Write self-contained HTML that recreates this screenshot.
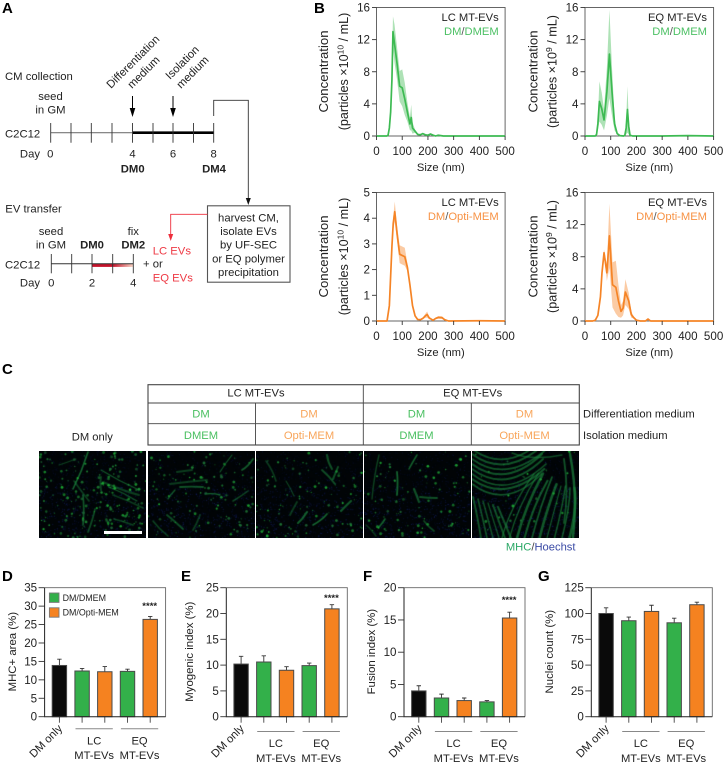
<!DOCTYPE html>
<html lang="en">
<head>
<meta charset="utf-8">
<title>MT-EV characterization figure</title>
<style>
html,body{margin:0;padding:0;background:#fff;}
#stage{position:relative;width:724px;height:766px;overflow:hidden;background:#fff;}
#figure{position:absolute;left:0;top:0;}
svg text{font-family:"Liberation Sans",Arial,sans-serif;fill:#222;}
.micro{position:absolute;display:block;}
</style>
</head>
<body>
<div id="stage">
<svg id="figure" width="724" height="766" viewBox="0 0 724 766" xmlns="http://www.w3.org/2000/svg">
  <defs>
    <linearGradient id="redFade" x1="0" x2="1" y1="0" y2="0">
      <stop offset="0" stop-color="#c4122a"/>
      <stop offset="0.5" stop-color="#c4122a"/>
      <stop offset="1" stop-color="#f7d5c4"/>
    </linearGradient>
  </defs>

  <g font-weight="700" font-size="15">
    <text x="2" y="13" style="fill:#000">A</text>
    <text x="314" y="13" style="fill:#000">B</text>
    <text x="2" y="374" style="fill:#000">C</text>
    <text x="2" y="581" style="fill:#000">D</text>
    <text x="181" y="581" style="fill:#000">E</text>
    <text x="363" y="581" style="fill:#000">F</text>
    <text x="538" y="581" style="fill:#000">G</text>
  </g>

  <g id="panelA" font-size="11.3">
    <text x="5" y="80">CM collection</text>
    <text x="50.5" y="100" text-anchor="middle">seed</text>
    <text x="50.5" y="113.3" text-anchor="middle">in GM</text>
    <text transform="translate(111 89) rotate(-45)">Differentiation</text>
    <text transform="translate(132 89) rotate(-45)">medium</text>
    <text transform="translate(170 80) rotate(-45)">Isolation</text>
    <text transform="translate(181 89) rotate(-45)">medium</text>
    <g>
      <line x1="132.5" y1="96" x2="132.5" y2="110" stroke="#000" stroke-width="1"/>
      <path d="M129.7 108 L135.3 108 L132.5 117 Z" fill="#000"/>
    </g>
    <g>
      <line x1="173" y1="96" x2="173" y2="110" stroke="#000" stroke-width="1"/>
      <path d="M170.2 108 L175.8 108 L173 117 Z" fill="#000"/>
    </g>
    <text x="5" y="137.7">C2C12</text>
    <g stroke="#333" stroke-width="0.9">
      <line x1="50.7" y1="132.7" x2="132.5" y2="132.7" stroke="#777" stroke-width="1.1"/>
      <line x1="132.5" y1="132.7" x2="213.7" y2="132.7" stroke="#000" stroke-width="2.6"/>
      <line x1="50.7" y1="123" x2="50.7" y2="142.7"/><line x1="71" y1="123" x2="71" y2="142.7"/>
      <line x1="91.3" y1="123" x2="91.3" y2="142.7"/><line x1="112" y1="123" x2="112" y2="142.7"/>
      <line x1="132.5" y1="123" x2="132.5" y2="142.7"/><line x1="153" y1="123" x2="153" y2="142.7"/>
      <line x1="173" y1="123" x2="173" y2="142.7"/><line x1="193.5" y1="123" x2="193.5" y2="142.7"/>
      <line x1="213.7" y1="123" x2="213.7" y2="142.7"/>
    </g>
    <text x="40" y="157.3" text-anchor="end">Day</text>
    <text x="50.3" y="157.3" text-anchor="middle">0</text>
    <text x="132.5" y="157.3" text-anchor="middle">4</text>
    <text x="173" y="157.3" text-anchor="middle">6</text>
    <text x="213.7" y="157.3" text-anchor="middle">8</text>
    <text x="132.7" y="172.7" text-anchor="middle" font-weight="700">DM0</text>
    <text x="214" y="172.7" text-anchor="middle" font-weight="700">DM4</text>
    <path d="M213.7 116 V100.3 H248.3 V199" fill="none" stroke="#333" stroke-width="0.9"/>
    <path d="M245.8 198 L250.8 198 L248.3 205 Z" fill="#111"/>

    <rect x="207.5" y="205.8" width="82.5" height="76.4" fill="#fff" stroke="#555" stroke-width="1.1"/>
    <g text-anchor="middle">
      <text x="248.5" y="221.3">harvest CM,</text>
      <text x="248.5" y="235">isolate EVs</text>
      <text x="248.5" y="248.7">by UF-SEC</text>
      <text x="248.5" y="262.3">or EQ polymer</text>
      <text x="248.5" y="276">precipitation</text>
    </g>
    <path d="M207.5 214.3 H170.7 V235" fill="none" stroke="#ee2e3c" stroke-width="0.9"/>
    <path d="M168.2 234 L173.2 234 L170.7 241 Z" fill="#ee2e3c"/>

    <text x="5.3" y="212.3">EV transfer</text>
    <text x="51" y="235" text-anchor="middle">seed</text>
    <text x="51" y="248.3" text-anchor="middle">in GM</text>
    <text x="92" y="248.3" text-anchor="middle" font-weight="700">DM0</text>
    <text x="133.3" y="235" text-anchor="middle">fix</text>
    <text x="133.3" y="248.3" text-anchor="middle" font-weight="700">DM2</text>
    <text x="5" y="268.3">C2C12</text>
    <g stroke="#333" stroke-width="0.9">
      <rect x="92" y="263.7" width="41.3" height="3.2" fill="url(#redFade)" stroke="none"/>
      <line x1="51.3" y1="263.7" x2="133.3" y2="263.7" stroke="#333" stroke-width="1"/>
      <line x1="51.3" y1="254" x2="51.3" y2="273.3"/><line x1="71.7" y1="254" x2="71.7" y2="273.3"/>
      <line x1="92" y1="254" x2="92" y2="273.3"/><line x1="112.7" y1="254" x2="112.7" y2="273.3"/>
      <line x1="133.3" y1="254" x2="133.3" y2="273.3"/>
    </g>
    <text x="40" y="286.7" text-anchor="end">Day</text>
    <text x="51.3" y="286.7" text-anchor="middle">0</text>
    <text x="92" y="286.7" text-anchor="middle">2</text>
    <text x="133.3" y="286.7" text-anchor="middle">4</text>
    <text x="143" y="267.5">+ or</text>
    <text x="152.7" y="254.3" style="fill:#ee3a45">LC EVs</text>
    <text x="152.7" y="281.7" style="fill:#ee3a45">EQ EVs</text>
  </g>

  <g id="panelB"></g>

  <g id="panelC" font-size="11.2">
    <g fill="none" stroke="#444">
      <rect x="148" y="384.7" width="431.3" height="60.3" stroke-width="1.1"/>
      <line x1="148" y1="403" x2="579.3" y2="403" stroke-width="0.9"/>
      <line x1="148" y1="423.7" x2="579.3" y2="423.7" stroke-width="0.9"/>
      <line x1="255.5" y1="403" x2="255.5" y2="445" stroke-width="0.9"/>
      <line x1="363.3" y1="384.7" x2="363.3" y2="445" stroke-width="0.9"/>
      <line x1="471.3" y1="403" x2="471.3" y2="445" stroke-width="0.9"/>
    </g>
    <g text-anchor="middle">
      <text x="256" y="396.7">LC MT-EVs</text>
      <text x="472.7" y="396.7">EQ MT-EVs</text>
      <text x="201" y="417.7" style="fill:#48bf5f">DM</text>
      <text x="309" y="417.7" style="fill:#f8a55a">DM</text>
      <text x="416.5" y="417.7" style="fill:#48bf5f">DM</text>
      <text x="524.5" y="417.7" style="fill:#f8a55a">DM</text>
      <text x="201" y="439" style="fill:#48bf5f">DMEM</text>
      <text x="309" y="439" style="fill:#f8a55a">Opti-MEM</text>
      <text x="416.5" y="439" style="fill:#48bf5f">DMEM</text>
      <text x="524.5" y="439" style="fill:#f8a55a">Opti-MEM</text>
      <text x="92.3" y="440.3">DM only</text>
    </g>
    <text x="583" y="417.7">Differentiation medium</text>
    <text x="583" y="439">Isolation medium</text>
    <text x="575.5" y="550.3" text-anchor="end"><tspan style="fill:#2aa866">MHC</tspan><tspan style="fill:#444">/</tspan><tspan style="fill:#3a4aa5">Hoechst</tspan></text>
  </g>

  <g id="panelBars"></g>
</svg>
<div id="micrographs"></div>
<div style="position:absolute;left:104.3px;top:531.3px;width:38px;height:3px;background:#fff;z-index:2;"></div>
</div>

<script>
/* ---------- Panel B data: nanoparticle tracking size distributions ---------- */
const xTickLabels = [0, 100, 200, 300, 400, 500];

const lcDmemSizes = [0, 40, 45, 50, 55, 60, 64, 70, 80, 90, 100, 110, 120, 130, 135, 140, 150, 160, 170, 180, 190, 200, 210, 220, 230, 240, 250, 260, 500];
const lcDmemMean  = [0, 0, 0.1, 1, 3, 7, 13, 11.5, 9, 6.2, 6, 4.6, 3, 1.5, 2.3, 1, 0.6, 0.2, 0.15, 0.3, 0.15, 0.1, 0.25, 0.1, 0, 0.1, 0.05, 0, 0];
const lcDmemErr   = [0, 0, 0, 0.2, 0.5, 1, 1.9, 2.4, 2, 1.9, 2.3, 2, 1.2, 0.8, 1.6, 0.7, 0.2, 0.1, 0.05, 0.1, 0.05, 0, 0.05, 0, 0, 0, 0, 0, 0];
const lcDmemTicks = [0, 4, 8, 12, 16];

const eqDmemSizes = [0, 30, 40, 45, 50, 56, 65, 74, 85, 95, 105, 115, 125, 135, 150, 155, 160, 165, 170, 175, 185, 300, 400, 500];
const eqDmemMean  = [0, 0, 0, 0.2, 1.5, 4.3, 3.4, 2, 5.5, 10.2, 5.5, 1.5, 0.3, 0.05, 0, 0.1, 1, 3.3, 1.2, 0.1, 0, 0, 0.05, 0];
const eqDmemErr   = [0, 0, 0, 0.1, 0.8, 2.5, 2, 1.3, 3, 5.5, 3, 0.8, 0.1, 0, 0, 0, 0.8, 2.9, 1, 0, 0, 0, 0, 0];
const eqDmemTicks = [0, 4, 8, 12, 16];

const lcOptiSizes = [0, 41, 50, 60, 65, 71, 80, 90, 100, 110, 120, 130, 140, 150, 160, 170, 180, 190, 197, 205, 220, 230, 240, 255, 265, 280, 400, 500];
const lcOptiMean  = [0, 0, 0.6, 2.9, 3.8, 4.25, 3.4, 2.6, 2.55, 2.5, 2.1, 1.4, 0.6, 0.2, 0.06, 0.05, 0.1, 0.2, 0.25, 0.12, 0.03, 0.1, 0.14, 0.13, 0.05, 0, 0.01, 0];
const lcOptiErr   = [0, 0, 0.05, 0.15, 0.25, 0.4, 0.3, 0.35, 0.35, 0.35, 0.15, 0.05, 0.03, 0.02, 0.01, 0.01, 0.02, 0.08, 0.12, 0.05, 0.01, 0.03, 0.05, 0.05, 0.02, 0, 0, 0];
const lcOptiTicks = [0, 1, 2, 3, 4, 5];

const eqOptiSizes = [0, 30, 40, 50, 60, 66, 74, 85, 95, 107, 120, 130, 140, 148, 157, 170, 180, 190, 200, 215, 235, 245, 255, 500];
const eqOptiMean  = [0, 0, 0.1, 0.7, 3, 6, 8.5, 6, 10.6, 4.5, 4.2, 2.5, 1.2, 1.6, 3.6, 2.5, 0.8, 0.4, 0.1, 0, 0, 0.25, 0, 0];
const eqOptiErr   = [0, 0, 0, 0.1, 0.2, 0.3, 0.4, 1, 4, 2.8, 3.3, 2, 0.8, 0.9, 1.6, 1, 0.4, 0.1, 0, 0, 0, 0.05, 0, 0];
const eqOptiTicks = [0, 4, 8, 12, 16];

/* ---------- Panels D-G data: bar charts ---------- */
const barCategories = ['DM only', 'LC DM/DMEM', 'LC DM/Opti-MEM', 'EQ DM/DMEM', 'EQ DM/Opti-MEM'];
const mhcAreaValues = [13.9, 12.4, 12.2, 12.3, 26.4];
const mhcAreaErrors = [1.7, 0.7, 1.4, 0.6, 0.8];
const mhcAreaTicks  = [0, 5, 10, 15, 20, 25, 30, 35];
const myogenicValues = [10.2, 10.6, 9, 9.9, 20.9];
const myogenicErrors = [1.5, 1.2, 0.7, 0.5, 0.8];
const myogenicTicks  = [0, 5, 10, 15, 20, 25];
const fusionValues = [4, 2.9, 2.5, 2.3, 15.3];
const fusionErrors = [0.8, 0.6, 0.4, 0.2, 0.9];
const fusionTicks  = [0, 5, 10, 15, 20];
const nucleiValues = [100, 93, 102, 91, 108.5];
const nucleiErrors = [5.5, 3.5, 6, 4.5, 2.5];
const nucleiTicks  = [0, 25, 50, 75, 100, 125];

const SVGNS = 'http://www.w3.org/2000/svg';
function make(tag, attrs, parent) {
  const node = document.createElementNS(SVGNS, tag);
  for (const k in attrs) node.setAttribute(k, attrs[k]);
  parent.appendChild(node);
  return node;
}
function linear(d0, d1, r0, r1) {
  return function (v) { return r0 + (v - d0) * (r1 - r0) / (d1 - d0); };
}

/* ---------- size-distribution charts ---------- */
function drawLineChart(cfg) {
  const root = document.getElementById('panelB');
  const g = make('g', {}, root);
  
  
  const L = cfg.left, R = cfg.left + 128.6, T = cfg.top, B = cfg.top + 128.5;
  const yMax = cfg.ticks[cfg.ticks.length - 1];
  const sx = linear(0, 500, L, R);
  const sy = linear(0, yMax, B, T);

  const upper = cfg.sizes.map(function (s, i) { return sx(s).toFixed(2) + ',' + sy(Math.min(yMax, cfg.mean[i] + cfg.err[i])).toFixed(2); });
  const lower = cfg.sizes.map(function (s, i) { return sx(s).toFixed(2) + ',' + sy(Math.max(0, cfg.mean[i] - cfg.err[i])).toFixed(2); }).reverse();
  const band = make('polygon', { points: upper.concat(lower).join(' '), fill: cfg.color, 'fill-opacity': 0.42, stroke: 'none' }, g);
  
  

  const frame = make('rect', { x: L, y: T, width: R - L, height: B - T, fill: 'none', stroke: '#555', 'stroke-width': 0.9 }, g);
  
  

  const curve = make('polyline', {
    points: cfg.sizes.map(function (s, i) { return sx(s).toFixed(2) + ',' + sy(cfg.mean[i]).toFixed(2); }).join(' '),
    fill: 'none', stroke: cfg.color, 'stroke-width': 1.7, 'stroke-linejoin': 'round'
  }, g);
  
  

  cfg.ticks.forEach(function (t) {
    const tick = make('line', { x1: L - 4.5, x2: L, y1: sy(t), y2: sy(t), stroke: '#333', 'stroke-width': 0.9 }, g);
    
    
    const lab = make('text', { x: L - 6.5, y: sy(t) + 4, 'text-anchor': 'end', 'font-size': 11.6 }, g);
    
    
    lab.textContent = t;
  });
  xTickLabels.forEach(function (t) {
    const tick = make('line', { x1: sx(t), x2: sx(t), y1: B, y2: B + 4, stroke: '#333', 'stroke-width': 0.9 }, g);
    
    
    const lab = make('text', { x: sx(t), y: B + 19, 'text-anchor': 'middle', 'font-size': 11.6 }, g);
    
    
    lab.textContent = t;
  });

  const xt = make('text', { x: (L + R) / 2, y: B + 35, 'text-anchor': 'middle', 'font-size': 11.2 }, g);
  
  
  xt.textContent = 'Size (nm)';

  const cy = T + 64;
  const y1 = make('text', { transform: 'translate(' + cfg.ylab1 + ' ' + cy + ') rotate(-90)', 'text-anchor': 'middle', 'font-size': 13.2 }, g);
  
  
  y1.textContent = 'Concentration';
  const y2 = make('text', { transform: 'translate(' + cfg.ylab2 + ' ' + cy + ') rotate(-90)', 'text-anchor': 'middle', 'font-size': 12.6 }, g);
  
  
  const s1 = make('tspan', {}, y2); s1.textContent = '(particles ×10';
  const s2 = make('tspan', { dy: -4.5, 'font-size': 8.5 }, y2); s2.textContent = cfg.exponent;
  const s3 = make('tspan', { dy: 4.5 }, y2); s3.textContent = ' / mL)';

  const l1 = make('text', { x: cfg.legendX, y: T + 13.5, 'text-anchor': 'end', 'font-size': 11.2 }, g);
  
  
  l1.textContent = cfg.title;
  const l2 = make('text', { x: cfg.legendX, y: T + 27.5, 'text-anchor': 'end', 'font-size': 11.2 }, g);
  
  
  const a = make('tspan', {}, l2); a.textContent = 'DM'; a.style.fill = cfg.textColor;
  const b = make('tspan', {}, l2); b.textContent = '/'; b.style.fill = '#555';
  const c = make('tspan', {}, l2); c.textContent = cfg.medium; c.style.fill = cfg.textColor;
}

const GREEN = '#3dba52', ORANGE = '#f58426';
drawLineChart({ name: 'lc-dmem-chart', left: 376.5, top: 7.5, sizes: lcDmemSizes, mean: lcDmemMean, err: lcDmemErr, ticks: lcDmemTicks, color: GREEN, textColor: '#4cc064', medium: 'DMEM', title: 'LC MT-EVs', exponent: '10', ylab1: 328, ylab2: 348, legendX: 498.7 });
drawLineChart({ name: 'eq-dmem-chart', left: 585, top: 7.5, sizes: eqDmemSizes, mean: eqDmemMean, err: eqDmemErr, ticks: eqDmemTicks, color: GREEN, textColor: '#4cc064', medium: 'DMEM', title: 'EQ MT-EVs', exponent: '9', ylab1: 537.5, ylab2: 556.5, legendX: 707 });
drawLineChart({ name: 'lc-opti-chart', left: 376.5, top: 192.5, sizes: lcOptiSizes, mean: lcOptiMean, err: lcOptiErr, ticks: lcOptiTicks, color: ORANGE, textColor: '#f79244', medium: 'Opti-MEM', title: 'LC MT-EVs', exponent: '10', ylab1: 328, ylab2: 348, legendX: 498.7 });
drawLineChart({ name: 'eq-opti-chart', left: 585, top: 192.5, sizes: eqOptiSizes, mean: eqOptiMean, err: eqOptiErr, ticks: eqOptiTicks, color: ORANGE, textColor: '#f79244', medium: 'Opti-MEM', title: 'EQ MT-EVs', exponent: '9', ylab1: 537.5, ylab2: 556.5, legendX: 707 });

/* ---------- bar charts ---------- */
const BAR_COLORS = ['#0a0a0a', '#33b04a', '#f58220', '#33b04a', '#f58220'];
function drawBarChart(cfg) {
  const root = document.getElementById('panelBars');
  const g = make('g', {}, root);
  
  
  const L = cfg.left, R = L + 121, T = 587.7, B = 716.7;
  const yMax = cfg.ticks[cfg.ticks.length - 1];
  const sy = linear(0, yMax, B, T);
  const sx = function (i) { return L + 14.8 + i * 22.7; };

  const frame = make('path', { d: 'M' + L + ' ' + T + ' H' + R + ' V' + B, fill: 'none', stroke: '#666', 'stroke-width': 0.9 }, g);
  
  

  cfg.values.forEach(function (v, i) {
    const cx = sx(i);
    const err = make('path', { d: 'M' + cx + ' ' + sy(v) + ' V' + sy(v + cfg.errors[i]) + ' M' + (cx - 2.2) + ' ' + sy(v + cfg.errors[i]) + ' H' + (cx + 2.2), fill: 'none', stroke: '#333', 'stroke-width': 0.9 }, g);
    
    
    const bar = make('rect', { x: cx - 7.2, y: sy(v), width: 14.4, height: B - sy(v), fill: BAR_COLORS[i], stroke: '#4a4a4a', 'stroke-width': 1 }, g);
    
    
    const tick = make('line', { x1: cx, x2: cx, y1: B, y2: B + 6, stroke: '#444', 'stroke-width': 0.9 }, g);
    
    
  });

  const axes = make('path', { d: 'M' + L + ' ' + T + ' V' + B + ' H' + R, fill: 'none', stroke: '#222', 'stroke-width': 1 }, g);
  
  

  cfg.ticks.forEach(function (t) {
    const tick = make('line', { x1: L - 6, x2: L, y1: sy(t), y2: sy(t), stroke: '#333', 'stroke-width': 0.9 }, g);
    
    
    const lab = make('text', { x: L - 7.5, y: sy(t) + 4, 'text-anchor': 'end', 'font-size': 11.6 }, g);
    
    
    lab.textContent = t;
  });

  const yt = make('text', { transform: 'translate(' + cfg.ylabX + ' ' + cfg.ylabY + ') rotate(-90)', 'text-anchor': 'middle', 'font-size': 11.4 }, g);
  
  
  yt.textContent = cfg.ylabel;

  const only = make('text', { transform: 'translate(' + (sx(0) + 3.5) + ' ' + (B + 12.5) + ') rotate(-45)', 'text-anchor': 'end', 'font-size': 11.2 }, g);
  
  
  only.textContent = 'DM only';

  [['lc', 'LC', 1, 2], ['eq', 'EQ', 3, 4]].forEach(function (grp) {
    const x1 = sx(grp[2]) - 6.6, x2 = sx(grp[3]) + 8;
    const rule = make('line', { x1: x1, x2: x2, y1: cfg.ruleY, y2: cfg.ruleY, stroke: '#888', 'stroke-width': 1 }, g);
    
    
    const a = make('text', { x: (x1 + x2) / 2, y: cfg.ruleY + 15.6, 'text-anchor': 'middle', 'font-size': 11.2 }, g);
    
    
    a.textContent = grp[1];
    const b = make('text', { x: (x1 + x2) / 2, y: cfg.ruleY + 30.3, 'text-anchor': 'middle', 'font-size': 11.2 }, g);
    
    
    b.textContent = 'MT-EVs';
  });

  if (cfg.starsY) {
    const st = make('text', { x: sx(4) - 0.5, y: cfg.starsY, 'text-anchor': 'middle', 'font-size': 9.5, 'font-weight': 700 }, g);
    
    
    st.textContent = '****';
  }
  if (cfg.legend) {
    [['dm-dmem', '#33b04a', 'DM/DMEM', 593], ['dm-opti-mem', '#f58220', 'DM/Opti-MEM', 607.8]].forEach(function (e) {
      const sw = make('rect', { x: L + 4.8, y: e[3], width: 9.6, height: 9.4, fill: e[1], stroke: '#777', 'stroke-width': 0.9 }, g);
      
      
      const tx = make('text', { x: L + 18, y: e[3] + 7.8, 'font-size': 8.9 }, g);
      
      
      tx.textContent = e[2];
    });
  }
}
drawBarChart({ name: 'mhc-area-chart', left: 44.6, values: mhcAreaValues, errors: mhcAreaErrors, ticks: mhcAreaTicks, ylabel: 'MHC+ area (%)', ylabX: 16, ylabY: 651.7, ruleY: 728.7, starsY: 609, legend: true });
drawBarChart({ name: 'myogenic-index-chart', left: 226.3, values: myogenicValues, errors: myogenicErrors, ticks: myogenicTicks, ylabel: 'Myogenic index (%)', ylabX: 193, ylabY: 651.7, ruleY: 731.5, starsY: 601, legend: false });
drawBarChart({ name: 'fusion-index-chart', left: 404, values: fusionValues, errors: fusionErrors, ticks: fusionTicks, ylabel: 'Fusion index (%)', ylabX: 375, ylabY: 651.7, ruleY: 731.5, starsY: 603, legend: false });
drawBarChart({ name: 'nuclei-count-chart', left: 591.3, values: nucleiValues, errors: nucleiErrors, ticks: nucleiTicks, ylabel: 'Nuclei count (%)', ylabX: 553, ylabY: 651.7, ruleY: 731.5, starsY: 0, legend: false });

/* ---------- micrograph textures (decorative, deterministic) ---------- */
const panelLefts = [39.3, 148, 256, 364, 472.3];
const panelNames = ['dm-only', 'lc-dmem', 'lc-opti-mem', 'eq-dmem', 'eq-opti-mem'];
const panelStreaks = [
  [[49,1,34,38],[62,19,100,39],[64,31,100,44],[74,44,104,57],[44,44,44,74],[56,58,49,81],[62,26,62,39],[75,68,94,74],[20,14,37,8],[35,30,50,50],[70,36,98,50]],
  [[84,4,72,21],[29,21,44,19],[22,33,59,29],[32,36,55,36],[20,48,27,39],[19,64,35,78],[52,64,45,79],[57,43,72,44],[94,19,105,8],[5,70,20,85],[85,50,100,40]],
  [[66,19,79,33],[77,28,82,16],[71,63,57,74],[41,51,34,64],[51,61,42,72],[71,4,76,18],[10,10,20,30],[85,60,95,50],[30,30,38,45]],
  [[15,4,8,48],[33,21,33,44],[53,4,45,18],[56,46,73,47],[21,68,15,76],[50,38,55,51],[2,74,12,85],[60,70,70,80]]
];
function seeded(seed) {
  let s = seed >>> 0;
  return function () { s = (s * 1664525 + 1013904223) >>> 0; return s / 4294967296; };
}
function curve(ctx, x0, y0, cx, cy, x1, y1, w, a) {
  ctx.strokeStyle = 'rgba(28,135,62,' + a + ')';
  ctx.lineWidth = w;
  ctx.beginPath();
  ctx.moveTo(x0, y0);
  ctx.quadraticCurveTo(cx, cy, x1, y1);
  ctx.stroke();
}
function drawMicro(ctx, idx) {
  const rnd = seeded(1234 + idx * 97);
  ctx.fillStyle = '#010406';
  ctx.fillRect(0, 0, 107, 87);
  const blues = idx === 4 ? 1300 : 1000;
  for (let i = 0; i < blues; i++) {
    const x = rnd() * 107, y = rnd() * 87;
    const deep = y > 35 ? 1 : 0.55;
    ctx.fillStyle = 'rgba(30,45,140,' + (0.5 * deep * rnd()).toFixed(2) + ')';
    ctx.fillRect(x, y, 1.1, 1.1);
  }
  ctx.lineCap = 'round';
  if (idx === 4) {
    for (let i = 0; i < 8; i++) {
      const y0 = i * 5 - 2;
      curve(ctx, 0, y0, 34, y0 + 24 + rnd() * 4, 68 + rnd() * 8, y0 - 10, 1 + rnd() * 1.3, 0.62);
    }
    for (let i = 0; i < 10; i++) {
      const x0 = 30 + i * 7.5;
      curve(ctx, x0, 87, x0 + 8, 56, 62 + i * 4.5, 18 + i * 2 + rnd() * 6, 1.1 + rnd() * 1.5, 0.65);
    }
    for (let i = 0; i < 6; i++) {
      curve(ctx, 1 + i * 5, 46 + i * 2, 6 + i * 5, 68, 9 + i * 6, 87, 1 + rnd(), 0.6);
    }
    curve(ctx, 98, 3, 106, 44, 101, 86, 2.4, 0.7);
    curve(ctx, 92, 8, 97, 40, 92, 72, 1.8, 0.6);
    curve(ctx, 40, 2, 60, 10, 90, 4, 1.4, 0.55);
  } else {
    panelStreaks[idx].forEach(function (s) {
      const mx = (s[0] + s[2]) / 2 + (rnd() - 0.5) * 4, my = (s[1] + s[3]) / 2 + (rnd() - 0.5) * 4;
      curve(ctx, s[0], s[1], mx, my, s[2], s[3], 1 + rnd() * 1.2, (0.4 + rnd() * 0.35).toFixed(2));
    });
  }
  const blobs = [190, 110, 100, 85, 35][idx];
  for (let i = 0; i < blobs; i++) {
    ctx.fillStyle = 'rgba(30,' + Math.floor(100 + rnd() * 90) + ',55,' + (0.55 + rnd() * 0.4).toFixed(2) + ')';
    ctx.beginPath();
    ctx.arc(rnd() * 107, rnd() * 87, 0.5 + rnd() * 1, 0, 6.3);
    ctx.fill();
  }
}
const host = document.getElementById('micrographs');
panelLefts.forEach(function (left, i) {
  const cv = document.createElement('canvas');
  
  
  cv.className = 'micro';
  cv.width = 107;
  cv.height = 87;
  cv.style.left = left + 'px';
  cv.style.top = '450.7px';
  cv.style.width = '107px';
  cv.style.height = '87px';
  host.appendChild(cv);
  drawMicro(cv.getContext('2d'), i);
});
</script>
</body>
</html>
